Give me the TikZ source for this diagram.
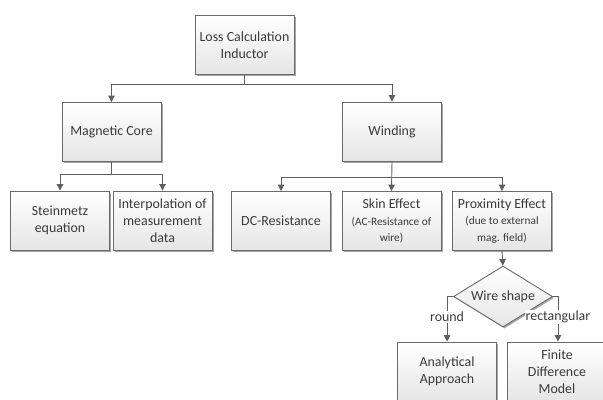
\documentclass[tikz,border=0pt]{standalone}
\usepackage{fontspec}
\setmainfont{Carlito}
\usetikzlibrary{shapes.geometric,shadows,arrows.meta}
\definecolor{txt}{HTML}{3A3A3A}
\definecolor{edge}{HTML}{5E5E5E}
\definecolor{bord}{HTML}{6A6A6A}
\newcommand\bigf{\fontsize{13.9bp}{16.8bp}\selectfont}
\newcommand\smf{\fontsize{11.3bp}{13.8bp}\selectfont}
\tikzset{
  x=1bp, y=-1bp,
  boxnode/.style={draw=bord, line width=0.9bp, top color=white, bottom color=black!10,
    minimum width=99bp, minimum height=59bp, inner sep=2bp, align=center,
    text=txt, font=\bigf,
    drop shadow={shadow xshift=1.5bp, shadow yshift=-1.5bp, opacity=0.35, fill=black}},
  decnode/.style={draw=bord, line width=0.9bp, diamond, aspect=1.6, inner sep=0pt,
    top color=white, bottom color=black!10, minimum width=99bp, minimum height=61bp,
    text=txt, font=\bigf,
    drop shadow={shadow xshift=1.5bp, shadow yshift=-1.5bp, opacity=0.35, fill=black}},
  conn/.style={draw=edge, line width=0.9bp, -{Triangle[width=6.5bp,length=6.5bp]}},
  lbl/.style={fill=white, text=txt, font=\bigf, inner sep=1bp}
}
\begin{document}
\begin{tikzpicture}
\useasboundingbox (0,0) rectangle (603,399);
\node[boxnode] (top) at (244.5,45) {Loss Calculation\\Inductor};
\node[boxnode] (mag) at (111.5,132) {Magnetic Core};
\node[boxnode] (wind) at (392,131.5) {Winding};
\node[boxnode] (stein) at (60,220.5) {Steinmetz\\equation};
\node[boxnode] (interp) at (162.5,220.5) {Interpolation of\\measurement\\data};
\node[boxnode] (dc) at (281,221) {DC-Resistance};
\node[boxnode] (skin) at (391.5,221) {Skin Effect\\\smf (AC-Resistance of\\\smf wire)};
\node[boxnode] (prox) at (502,221) {Proximity Effect\\\smf (due to external\\\smf mag. field)};
\node[decnode] (dia) at (503,296.5) {Wire shape};
\node[boxnode] (anal) at (447,371.5) {Analytical\\Approach};
\node[boxnode] (fdm) at (557,371.5) {Finite\\Difference\\Model};

\coordinate (j1) at (244.5,84);
\coordinate (j2) at (111.5,174.5);
\coordinate (j3) at (392,177);

\draw[draw=edge, line width=0.9bp] (top.south) -- (j1);
\path[conn] (j1) -| (mag.north);
\path[conn] (j1) -| (wind.north);

\draw[draw=edge, line width=0.9bp] (mag.south) -- (j2);
\path[conn] (j2) -| (stein.north);
\path[conn] (j2) -| (interp.north);

\path[conn] (wind.south) -- (skin.north);
\path[conn] (j3) -| (dc.north);
\path[conn] (j3) -| (prox.north);

\path[conn] (prox.south) -- (dia.north);
\path[conn] (dia.west) -- ++(-6,0) coordinate (dl) -- (dl|-anal.north) node[lbl, pos=0.45] {round};
\path[conn] (dia.east) -- ++(5,0) coordinate (dr) -- (dr|-fdm.north) node[lbl, pos=0.45] {rectangular};
\end{tikzpicture}
\end{document}
